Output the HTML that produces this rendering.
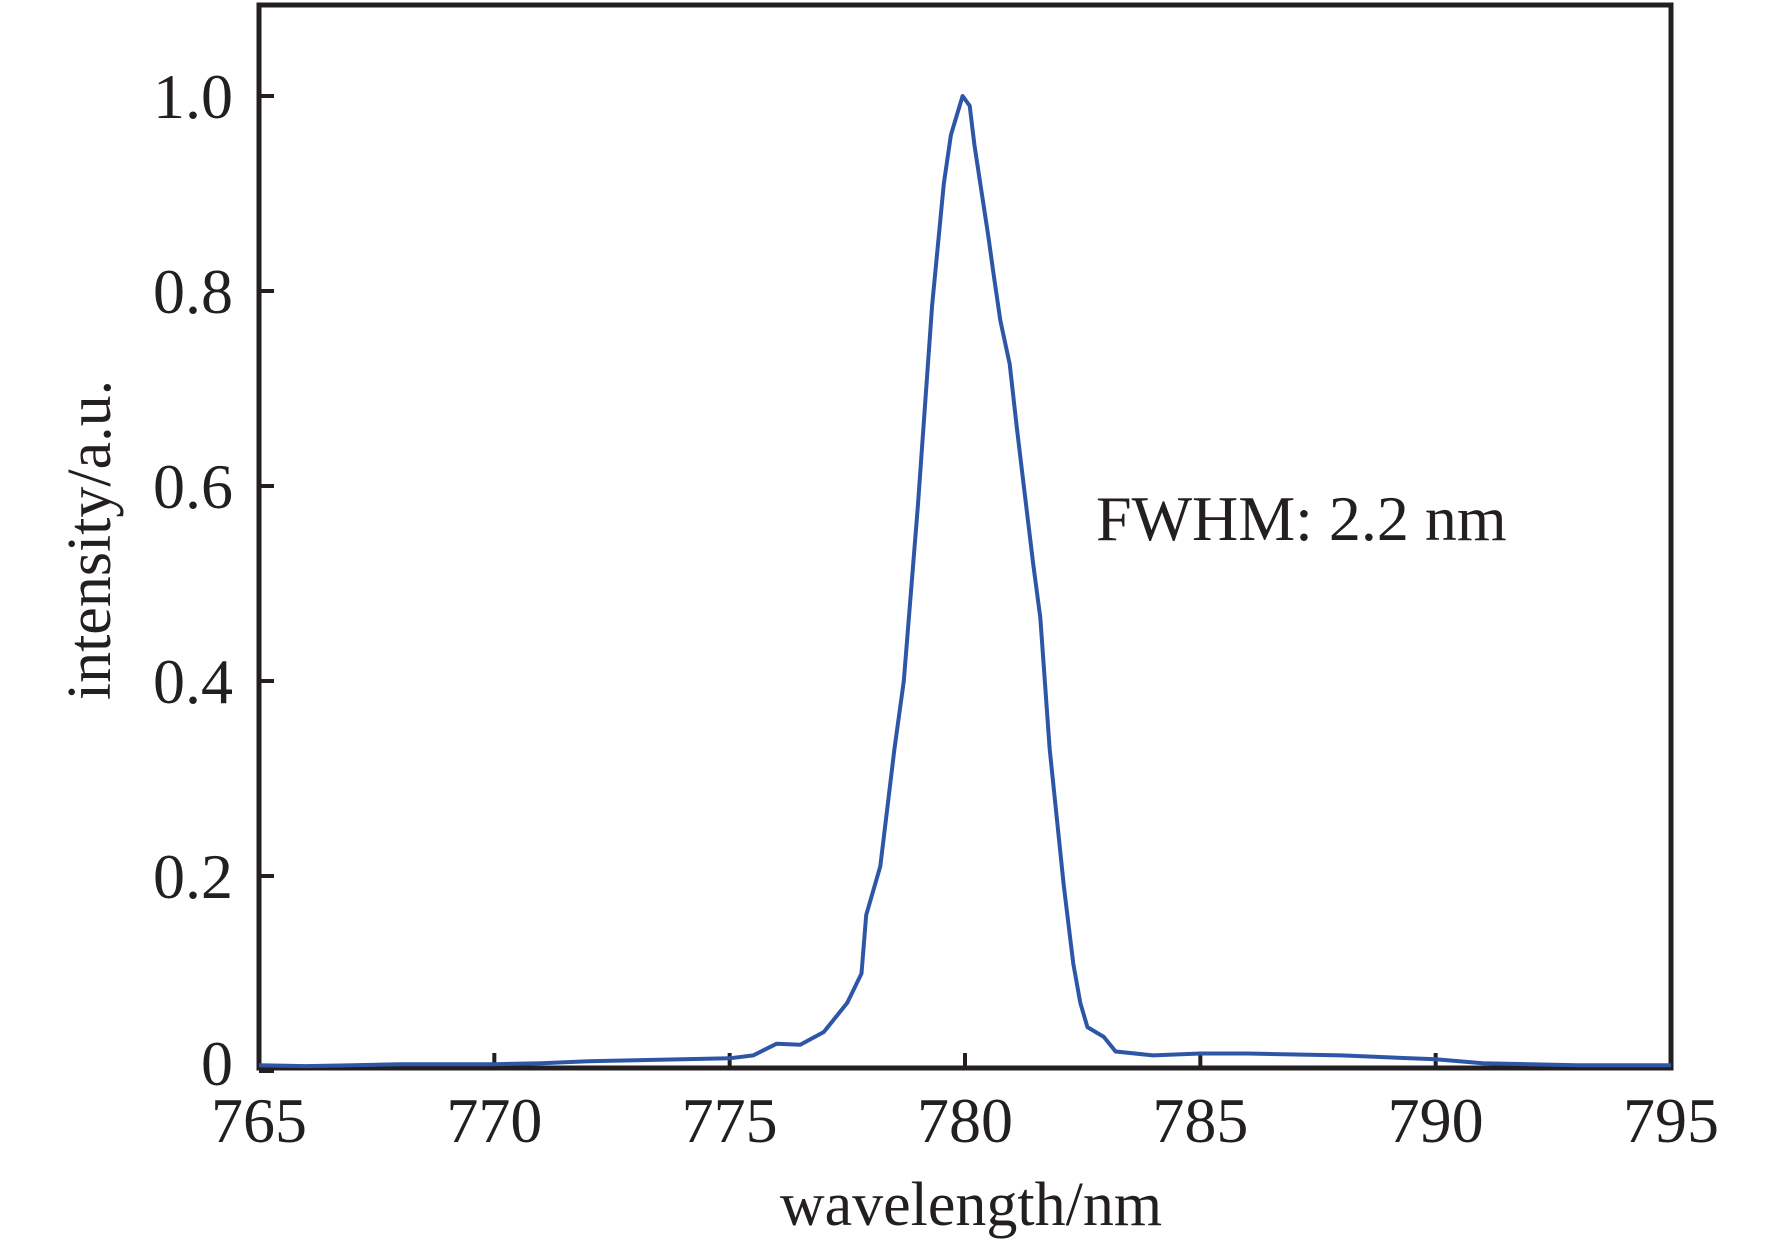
<!DOCTYPE html>
<html><head><meta charset="utf-8"><style>
body{margin:0;background:#fff}
svg text{font-family:"Liberation Serif",serif;fill:#231f20}
</style></head><body>
<svg id="chart" width="1772" height="1245" viewBox="0 0 1772 1245" xmlns="http://www.w3.org/2000/svg">
<rect x="259" y="5" width="1412" height="1063" fill="none" stroke="#231f20" stroke-width="5"/>
<g id="ticks"></g>
<path id="series" fill="none" stroke="#2e56a6" stroke-width="4" stroke-linejoin="round"/>
<text x="1096" y="540" font-size="64">FWHM: 2.2 nm</text>
<text x="971" y="1225" font-size="62" text-anchor="middle">wavelength/nm</text>
<text transform="translate(110,540) rotate(-90)" font-size="62" text-anchor="middle">intensity/a.u.</text>
</svg>
<script>
const wavelengths=[765,766,767,768,769,770,771,772,773,774,775,775.5,776,776.5,777,777.5,777.8,777.9,778.2,778.5,778.7,779.0,779.3,779.55,779.7,779.95,780.1,780.2,780.5,780.6,780.75,780.95,781.1,781.25,781.45,781.6,781.8,782.1,782.3,782.45,782.6,782.95,783.2,784,785,786,788,790,791,793,795];
const intensities=[0.006,0.005,0.006,0.007,0.007,0.007,0.008,0.01,0.011,0.012,0.013,0.016,0.028,0.027,0.04,0.07,0.1,0.16,0.21,0.33,0.4,0.58,0.785,0.91,0.96,1.0,0.99,0.95,0.855,0.82,0.77,0.725,0.66,0.6,0.52,0.465,0.33,0.19,0.11,0.07,0.045,0.035,0.02,0.016,0.018,0.018,0.016,0.012,0.008,0.006,0.006];
const xTicks=[765,770,775,780,785,790,795];
const yTicks=[0,0.2,0.4,0.6,0.8,1.0];
const yTickLabels=["0","0.2","0.4","0.6","0.8","1.0"];
const X0=259,X1=1671,Y0=1071,Y1=96;
function sx(v){return X0+(v-765)/30*(X1-X0);}
function sy(v){return Y0+v*(Y1-Y0);}
const NS="http://www.w3.org/2000/svg";
const g=document.getElementById('ticks');
xTicks.forEach(t=>{
  const l=document.createElementNS(NS,'line');
  
  
  l.setAttribute('x1',sx(t));l.setAttribute('x2',sx(t));l.setAttribute('y1',1068);l.setAttribute('y2',1053);
  l.setAttribute('stroke','#231f20');l.setAttribute('stroke-width','4');g.appendChild(l);
  const tx=document.createElementNS(NS,'text');
  
  
  tx.setAttribute('x',sx(t));tx.setAttribute('y',1142);tx.setAttribute('font-size','64');tx.setAttribute('text-anchor','middle');
  tx.textContent=t;g.appendChild(tx);
});
yTicks.forEach((t,i)=>{
  const l=document.createElementNS(NS,'line');
  
  
  l.setAttribute('x1',259);l.setAttribute('x2',274);l.setAttribute('y1',sy(t));l.setAttribute('y2',sy(t));
  l.setAttribute('stroke','#231f20');l.setAttribute('stroke-width','4');g.appendChild(l);
  const tx=document.createElementNS(NS,'text');
  
  
  tx.setAttribute('x',233);tx.setAttribute('y',sy(t)+(t===0?14:22));tx.setAttribute('font-size','64');tx.setAttribute('text-anchor','end');
  tx.textContent=yTickLabels[i];g.appendChild(tx);
});
document.getElementById('series').setAttribute('d',wavelengths.map((w,i)=>(i?'L':'M')+sx(w).toFixed(1)+','+sy(intensities[i]).toFixed(1)).join(''));
</script>
</body></html>
